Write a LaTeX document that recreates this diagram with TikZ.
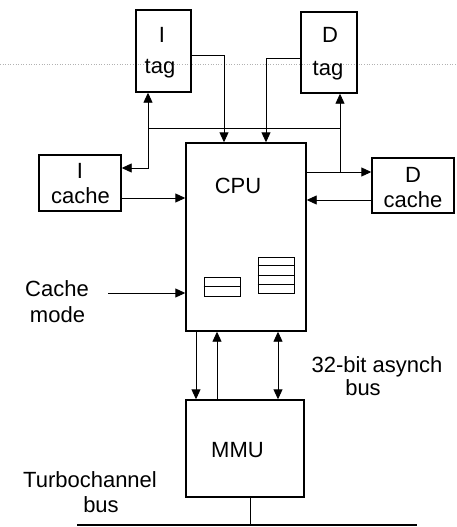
\documentclass[tikz,border=0pt]{standalone}
\usepackage{fontspec}
\setmainfont{Liberation Sans}
\usetikzlibrary{arrows.meta}
\begin{document}
\begin{tikzpicture}[x=1pt,y=-1pt,
  box/.style={draw,line width=1.4pt,inner sep=0pt},
  lbl/.style={anchor=base,inner sep=0pt,font=\fontsize{22}{26}\selectfont},
  conn/.style={line width=0.9pt},
  arr/.style={conn,-{Triangle[length=10pt,width=9pt]}},
  arrb/.style={conn,{Triangle[length=10pt,width=9pt]}-{Triangle[length=10pt,width=9pt]}},
  reg/.style={draw,line width=1pt}]
\useasboundingbox (0,0) rectangle (456,527);
\fill[white] (0,0) rectangle (456,527);
% faint scan line
\draw[gray!60,dotted,line width=0.6pt] (0,64) -- (456,64);
% boxes
\node[box,minimum width=55pt,minimum height=82pt] (itag) at (163.5,51) {};
\node[box,minimum width=56pt,minimum height=81pt] (dtag) at (329,52.5) {};
\node[box,minimum width=120pt,minimum height=188pt] (cpu) at (246,237) {};
\node[box,minimum width=82pt,minimum height=56pt] (icache) at (80,183) {};
\node[box,minimum width=82pt,minimum height=55pt] (dcache) at (413,185.5) {};
\node[box,minimum width=118pt,minimum height=97pt] (mmu) at (245,448.5) {};
% labels
\node[lbl] (itag1) at (162,42) {I};
\node[lbl] (itag2) at (160,74) {tag};
\node[lbl] (dtag1) at (330,43) {D};
\node[lbl] (dtag2) at (328,75) {tag};
\node[lbl] (ic1) at (80,178) {I};
\node[lbl] (ic2) at (80.5,203) {cache};
\node[lbl] (dc1) at (413,182) {D};
\node[lbl] (dc2) at (413,207) {cache};
\node[lbl] (cpul) at (238,193) {CPU};
\node[lbl] (mmul) at (237.5,457) {MMU};
\node[lbl] (cm1) at (57,296) {Cache};
\node[lbl] (cm2) at (57.5,322) {mode};
\node[lbl] (ab1) at (377,372) {32-bit asynch};
\node[lbl] (ab2) at (363,395) {bus};
\node[lbl] (tb1) at (90,487) {Turbochannel};
\node[lbl] (tb2) at (101,512) {bus};
% registers in CPU
\node[reg,minimum width=36pt,minimum height=19pt,inner sep=0pt] (r1) at (222,286.5) {};
\draw[reg] (r1.west) -- (r1.east);
\node[reg,minimum width=36pt,minimum height=36pt,inner sep=0pt] (r2) at (276,275) {};
\draw[reg] ([yshift=-9pt]r2.north west) -- ([yshift=-9pt]r2.north east);
\draw[reg] (r2.west) -- (r2.east);
\draw[reg] ([yshift=9pt]r2.south west) -- ([yshift=9pt]r2.south east);
% coordinates
\coordinate (jl) at (148,128);
\coordinate (jr) at (340,128);
\coordinate (jd) at (340,172);
\coordinate (cm) at (108,293);
\coordinate (bl) at (77,525);
\coordinate (br) at (417,525);
\coordinate (bj) at (250,525);
% connectors top
\draw[conn] (jl) -- (jr);
\draw[arr] (jl) -- (jl |- itag.south);
\draw[arr] (jl) |- (icache.east |- 0,168);
\draw[arr] (jd) -- (jd |- dtag.south);
\draw[conn] (jr) -- (jd);
\draw[arr] (cpu.east |- 0,172) -- (dcache.west |- 0,172);
\draw[arr] (itag.east |- 0,55) -| (224,0 |- cpu.north);
\draw[arr] (dtag.west |- 0,58) -| (266,0 |- cpu.north);
\draw[arr] (icache.east |- 0,198) -- (cpu.west |- 0,198);
\draw[arr] (dcache.west |- 0,200) -- (cpu.east |- 0,200);
\draw[arr] (cm) -- (cpu.west |- cm);
% CPU - MMU
\draw[arr] (196,0 |- cpu.south) -- (196,0 |- mmu.north);
\draw[arr] (217,0 |- mmu.north) -- (217,0 |- cpu.south);
\draw[arrb] (278,0 |- cpu.south) -- (278,0 |- mmu.north);
% bus
\draw[conn] (bj |- mmu.south) -- (bj);
\draw[line width=2pt] (bl) -- (br);
\end{tikzpicture}
\end{document}
